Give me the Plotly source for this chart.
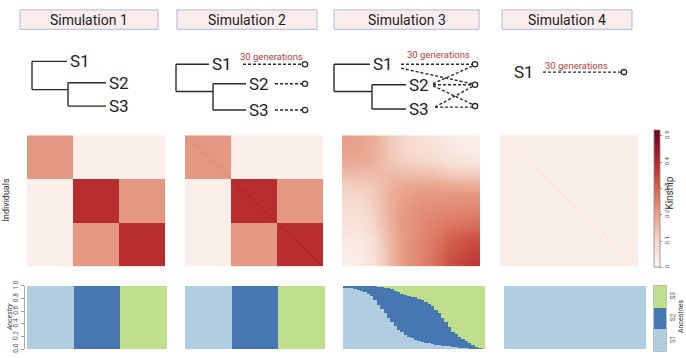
import numpy as np
import plotly.graph_objects as go

W, H = 686, 358

# ---------------- data ----------------
sim_titles = ["Simulation 1", "Simulation 2", "Simulation 3", "Simulation 4"]
pop_labels = ["S1", "S2", "S3"]
pop_colors = ["#b1cde1", "#4777b0", "#bfdf8c"]
generations_label = "30 generations"

# simulations 1 & 2: three populations, individuals per population
pop_sizes = [40, 40, 40]
kin_sim1 = [[0.215, 0.025, 0.025],
            [0.025, 0.39, 0.215],
            [0.025, 0.215, 0.39]]
self_kin_sim1 = [0.215, 0.39, 0.39]
kin_sim2 = [[0.215, 0.025, 0.025],
            [0.025, 0.39, 0.215],
            [0.025, 0.215, 0.39]]
self_kin_sim2 = [0.24, 0.42, 0.42]

# simulation 4: a single population
sim4_size = 120
kin_sim4 = 0.03
self_kin_sim4 = 0.065

# simulation 3: admixed individuals (ancestry)
anc3_s1 = [0.975, 0.97, 0.965, 0.95, 0.94, 0.925, 0.90, 0.875, 0.835, 0.775,
           0.70, 0.64, 0.575, 0.50, 0.425, 0.365, 0.30, 0.265, 0.225, 0.20,
           0.175, 0.15, 0.135, 0.115, 0.10, 0.09, 0.08, 0.07, 0.065, 0.055,
           0.05, 0.045, 0.035, 0.03, 0.025, 0.02, 0.015, 0.01, 0.005, 0.0,
           0.0, 0.0]
anc3_s3 = [0.0, 0.0, 0.0, 0.0, 0.0, 0.0, 0.0, 0.0, 0.0, 0.005,
           0.01, 0.02, 0.025, 0.035, 0.05, 0.075, 0.10, 0.125, 0.15, 0.16,
           0.17, 0.175, 0.20, 0.23, 0.25, 0.29, 0.325, 0.375, 0.425, 0.50,
           0.575, 0.65, 0.725, 0.765, 0.80, 0.84, 0.875, 0.905, 0.935, 0.96,
           0.985, 1.0]
# kinship between the source populations of simulation 3
kin_pop_sim3 = [[0.21, 0.07, 0.02],
                [0.07, 0.28, 0.24],
                [0.02, 0.24, 0.37]]

kin_ticks = [0, 0.1, 0.2, 0.3, 0.4, 0.5]
anc_ticks = [0.0, 0.2, 0.4, 0.6, 0.8, 1.0]

# ---------------- build matrices ----------------
def block_matrix(kin, self_kin, sizes):
    lab = np.repeat(np.arange(len(sizes)), sizes)
    K = np.array(kin)[lab][:, lab]
    K[np.arange(len(lab)), np.arange(len(lab))] = np.array(self_kin)[lab]
    Q = np.eye(len(sizes))[lab]
    return K, Q

K1, Q1 = block_matrix(kin_sim1, self_kin_sim1, pop_sizes)
K2, Q2 = block_matrix(kin_sim2, self_kin_sim2, pop_sizes)
K4, Q4 = block_matrix([[kin_sim4]], [self_kin_sim4], [sim4_size])
Q4 = np.hstack([Q4, np.zeros((sim4_size, 2))])

q1 = np.array(anc3_s1); q3 = np.array(anc3_s3); q2 = 1 - q1 - q3
Q3 = np.vstack([q1, q2, q3]).T
K3 = Q3 @ np.array(kin_pop_sim3) @ Q3.T

kin_mats = [K1, K2, K3, K4]
anc_mats = [Q1, Q2, Q3, Q4]

# ---------------- layout geometry (pixels) ----------------
def px(x): return x / W
def py(y): return 1 - y / H

hm_x = [(27, 165), (185, 323), (342, 480), (500, 638)]
hm_y = (133, 268)
an_x = [(27, 167), (185, 325), (343, 485), (504, 646)]
an_y = (288, 353)

fig = go.Figure()
colorscale = [[0.0, "#fbf6f4"], [0.192, "#f5d7ca"], [0.385, "#e8a18a"],
              [0.577, "#d5634f"], [0.769, "#b5272c"], [1.0, "#67001f"]]

layout = dict(width=W, height=H, margin=dict(l=0, r=0, t=0, b=0),
              paper_bgcolor="white", plot_bgcolor="white",
              showlegend=False, barmode="stack", bargap=0,
              font=dict(family="Roboto, Arial", color="#222"))

for i in range(4):
    K = kin_mats[i]
    n = K.shape[0]
    fig.add_trace(go.Heatmap(z=K, coloraxis="coloraxis",
                             zsmooth="best" if i == 2 else False,
                             xaxis=f"x{i+1}", yaxis=f"y{i+1}",
                             hoverinfo="skip"))
    layout[f"xaxis{i+1}"] = dict(domain=[px(hm_x[i][0]), px(hm_x[i][1])],
                                 visible=False, range=[-0.5, n - 0.5],
                                 anchor=f"y{i+1}")
    layout[f"yaxis{i+1}"] = dict(domain=[py(hm_y[1]), py(hm_y[0])],
                                 visible=False, range=[n - 0.5, -0.5],
                                 anchor=f"x{i+1}")

for i in range(4):
    Q = anc_mats[i]
    n = Q.shape[0]
    ax = 5 + i
    for k in range(3):
        fig.add_trace(go.Bar(x=np.arange(n), y=Q[:, k],
                             marker=dict(color=pop_colors[k], line=dict(width=0)),
                             xaxis=f"x{ax}", yaxis=f"y{ax}", hoverinfo="skip"))
    layout[f"xaxis{ax}"] = dict(domain=[px(an_x[i][0]), px(an_x[i][1])],
                                visible=False, range=[-0.5, n - 0.5],
                                anchor=f"y{ax}")
    ya = dict(domain=[py(an_y[1]), py(an_y[0])], range=[0, 1],
              showgrid=False, zeroline=False)
    if i == 0:
        ya.update(anchor="free", position=px(24), showline=True,
                  linecolor="#999", linewidth=0.8, ticks="outside",
                  ticklen=3, tickcolor="#999", tickangle=-90,
                  tickvals=anc_ticks, ticktext=[f"{t:.1f}" for t in anc_ticks],
                  tickfont=dict(size=6.5, color="#555"))
    else:
        ya.update(visible=False, anchor=f"x{ax}")
    layout[f"yaxis{ax}"] = ya

# ancestry legend
for k in range(3):
    fig.add_trace(go.Bar(x=[0], y=[1], marker=dict(color=pop_colors[k], line=dict(width=0)),
                         xaxis="x9", yaxis="y9", hoverinfo="skip"))
layout["xaxis9"] = dict(domain=[px(654), px(666)], range=[-0.5, 0.5],
                        showticklabels=False, showgrid=False, zeroline=False,
                        showline=True, mirror=True, linecolor="#aaa",
                        linewidth=0.8, anchor="y9")
layout["yaxis9"] = dict(domain=[py(355), py(288)], range=[0, 3], side="right",
                        showgrid=False, zeroline=False, showline=True,
                        mirror=True, linecolor="#aaa", linewidth=0.8,
                        tickvals=[0.5, 1.5, 2.5], ticktext=pop_labels,
                        tickangle=-90, ticks="", tickfont=dict(size=6.5, color="#555"),
                        anchor="x9")

layout["coloraxis"] = dict(
    cmin=0, cmax=0.52, colorscale=colorscale,
    colorbar=dict(x=px(654), xanchor="left", y=py(198.5), yanchor="middle",
                  thickness=6, thicknessmode="pixels", len=137, lenmode="pixels",
                  tickvals=kin_ticks, ticktext=[f"{t:g}" for t in kin_ticks],
                  tickangle=-90, ticks="outside", ticklen=2, tickcolor="#888",
                  tickfont=dict(size=6, color="#555"),
                  outlinewidth=0.8, outlinecolor="#888", xpad=0, ypad=0))

fig.update_layout(**layout)

# ---------------- trees, boxes and texts ----------------
shapes = []
annotations = []

def line(x0, y0, x1, y1, dash=None, width=1.4, color="#2a2a2a"):
    d = dict(type="line", xref="paper", yref="paper",
             x0=px(x0), y0=py(y0), x1=px(x1), y1=py(y1),
             line=dict(color=color, width=width))
    if dash:
        d["line"]["dash"] = dash
    shapes.append(d)

def circle(cx, cy, r=2.7):
    shapes.append(dict(type="circle", xref="paper", yref="paper",
                       x0=px(cx - r), x1=px(cx + r), y0=py(cy + r), y1=py(cy - r),
                       line=dict(color="#2a2a2a", width=1.3), fillcolor="white"))

def text(x, y, s, size, color="#222", xanchor="left", angle=0, style="normal"):
    annotations.append(dict(x=px(x), y=py(y), xref="paper", yref="paper",
                            text=s, showarrow=False, xanchor=xanchor, yanchor="middle",
                            textangle=angle,
                            font=dict(size=size, color=color, family="Roboto, Arial",
                                      style=style)))

def tree(vx, ytop, ybot, x_s1, vx2, y2, y3, x_end):
    line(vx, ytop, vx, ybot)
    line(vx, ytop, x_s1, ytop)
    line(vx, ybot, vx2, ybot)
    line(vx2, y2, vx2, y3)
    line(vx2, y2, x_end, y2)
    line(vx2, y3, x_end, y3)
    text(x_s1 + 1, ytop, pop_labels[0], 17)
    text(x_end + 1, y2, pop_labels[1], 17)
    text(x_end + 1, y3, pop_labels[2], 17)

# title boxes
boxes = [(20, 158), (177, 317), (334, 479), (502, 632)]
for (x0, x1), t in zip(boxes, sim_titles):
    shapes.append(dict(type="rect", xref="paper", yref="paper",
                       x0=px(x0), x1=px(x1), y0=py(24), y1=py(4),
                       fillcolor="#f9eded", line=dict(color="#b2b8de", width=1)))
    text((x0 + x1) / 2, 14, t, 14, xanchor="center")

DASH = "3px,2px"
RED = "#c0393b"

# simulation 1
tree(32, 57, 86, 67, 68, 79, 103, 106)

# simulation 2
tree(176, 60, 88, 209, 213, 80, 107, 246)
line(243, 60, 302, 60, DASH); circle(305, 60)
line(275, 80, 302, 80, DASH); circle(305, 80)
line(275, 107, 302, 107, DASH); circle(305, 107)
text(271, 52, generations_label, 9.5, RED, "center")

# simulation 3
tree(334, 60, 88, 370, 372, 81, 106, 406)
cx3 = 475
line(401, 60, cx3 - 3, 60, DASH)
line(401, 64, cx3 - 3, 80, DASH)
line(433, 80, cx3 - 3, 62, DASH)
line(433, 81, cx3 - 3, 81, DASH)
line(433, 82, cx3 - 3, 101, DASH)
line(435, 104, cx3 - 3, 83, DASH)
line(435, 104, cx3 - 3, 104, DASH)
circle(cx3, 60); circle(cx3, 81); circle(cx3, 103)
text(438, 50, generations_label, 9.5, RED, "center")

# simulation 4
text(512, 68, pop_labels[0], 17)
line(543, 68, 621, 68, DASH); circle(624, 68)
text(576, 61, generations_label, 9.5, RED, "center")

# axis labels
text(6, 200, "Individuals", 9, "#333", "center", -90)
text(10, 320, "Ancestry", 7, "#333", "center", -90, "italic")
text(670, 193, "Kinship", 10, "#333", "center", -90)
text(681, 320, "Ancestries", 7, "#333", "center", -90)

fig.update_layout(shapes=shapes, annotations=annotations)
fig.write_html("out.html",
               config={"displayModeBar": False, "staticPlot": True},
               post_script="document.body.style.margin='0';"
                           "document.body.style.overflow='hidden';")
